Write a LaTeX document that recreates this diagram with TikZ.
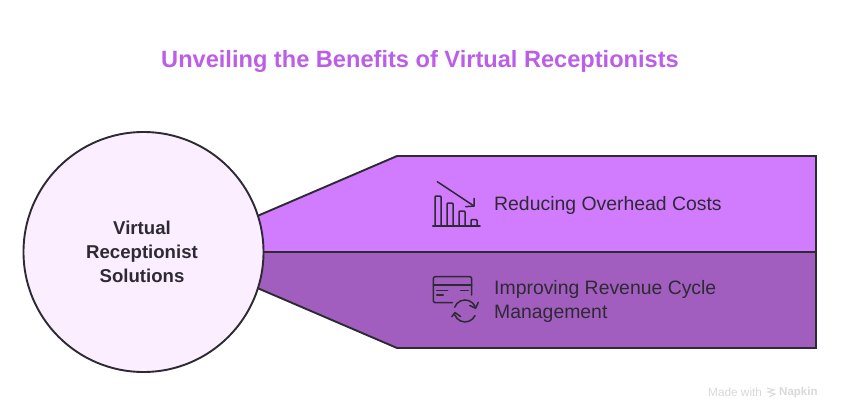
\documentclass[tikz,border=0pt]{standalone}
\usepackage{fontspec}
\setmainfont{Liberation Sans}
\definecolor{ink}{HTML}{2E2A33}
\definecolor{titlec}{HTML}{BC5FE8}
\definecolor{upperc}{HTML}{D17BFF}
\definecolor{lowerc}{HTML}{A15EBF}
\definecolor{circc}{HTML}{FAEEFF}
\definecolor{markc}{HTML}{D9D9D9}
\tikzset{
  outline/.style={draw=ink,line width=1.9pt,line join=miter},
  icon/.style={draw=ink,line width=1.5pt,line join=round,line cap=round},
  label/.style={text=ink,font=\fontsize{19.4}{24}\selectfont,anchor=west,align=left,inner sep=0pt},
  hub/.style={text=ink,font=\fontsize{18.6}{24}\selectfont\bfseries,align=center,inner sep=0pt},
}
\begin{document}
\begin{tikzpicture}[x=1pt,y=-1pt]
\useasboundingbox (0,0) rectangle (841,420);
\fill[white] (0,0) rectangle (841,420);
\node[text=titlec,font=\fontsize{23.6}{30}\selectfont\bfseries,inner sep=0pt] (title) at (420,61) {Unveiling the Benefits of Virtual Receptionists};
\draw[outline,fill=upperc] (255,217) -- (397,156) -- (816,156) -- (816,252) -- (260,252) -- cycle;
\draw[outline,fill=lowerc] (260,252) -- (816,252) -- (816,348) -- (397,348) -- (255,287) -- cycle;
\node[circle,outline,fill=circc,minimum size=240pt,inner sep=0pt] (hubc) at (143.5,252) {};
\node[hub] (hubt) at (142,252) {Virtual\\Receptionist\\Solutions};
\node[label] (t1) at (494,205) {Reducing Overhead Costs};
\node[label] (t2) at (494,301) {Improving Revenue Cycle\\Management};
% chart icon
\draw[icon] (432.7,226) -- (480,226);
\draw[icon] (435,226) -- (435,197) -- ++(1,-1) -- (440,196) -- ++(1,1) -- (441,226);
\draw[icon] (447,226) -- (447,204) -- ++(1,-1) -- (452,203) -- ++(1,1) -- (453,226);
\draw[icon] (459,226) -- (459,212) -- ++(1,-1) -- (464,211) -- ++(1,1) -- (465,226);
\draw[icon] (471,226) -- (471,220.5) -- ++(1,-1) -- (476,219.5) -- ++(1,1) -- (477,226);
\draw[icon] (437.3,181.7) -- (474,206);
\draw[icon] (465.7,206.7) -- (474,206) -- (474,198.3);
% card icon
\draw[icon,rounded corners=2pt] (452.5,302.7) -- (433.3,302.7) -- (433.3,276.7) -- (471.7,276.7) -- (471.7,295);
\draw[icon] (433.3,285) -- (471.7,285);
\draw[icon] (436.7,290.7) -- (447.7,290.7);
\draw[icon] (460.7,290.7) -- (468.3,290.7);
\draw[icon] (436.7,295) -- (443.3,295);
% refresh arrows
\draw[icon] (454.7,307.2) arc[start angle=200,end angle=335,x radius=11,y radius=11];
\draw[icon] (478.3,302.3) -- (475.6,308.3) -- (469.8,305.5);
\draw[icon] (475,315.6) arc[start angle=25,end angle=160,x radius=11,y radius=11];
\draw[icon] (451.8,316.7) -- (455,312.5) -- (460.5,316.5);
% watermark
\node[text=markc,font=\fontsize{11.8}{13}\selectfont,anchor=west,inner sep=0pt] (m1) at (708,392.5) {Made with};
\draw[markc,line width=1pt] (767,388) -- (774,390) -- (768,392) -- (775,394) -- (769,397);
\node[text=markc,font=\fontsize{11.5}{13}\selectfont\bfseries,anchor=west,inner sep=0pt] (m2) at (779,392.5) {Napkin};
\end{tikzpicture}
\end{document}
